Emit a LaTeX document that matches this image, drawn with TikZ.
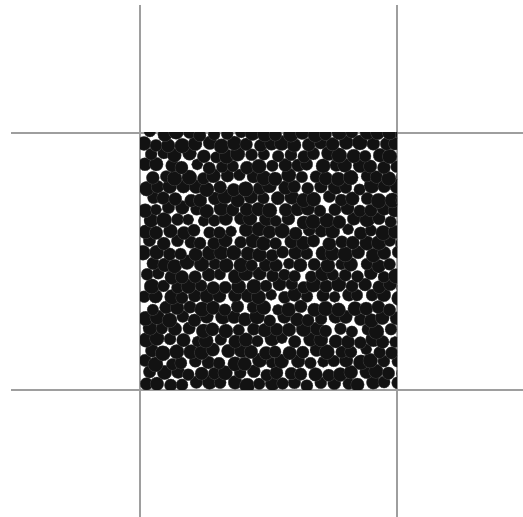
\documentclass[tikz,border=0pt]{standalone}
\begin{document}
\begin{tikzpicture}[x=1pt,y=1pt,
  gridline/.style={draw=black!38,line width=1.2pt},
  grain/.style={fill=black!93,draw=black!75,line width=0.4pt}]
\useasboundingbox (0,0) rectangle (523,517);
% grid lines (y measured from top: ytikz = 517 - y)
\draw[gridline] (140,512) -- (140,0);
\draw[gridline] (397,512) -- (397,0);
\draw[gridline] (11,384) -- (523,384);
\draw[gridline] (11,127) -- (523,127);
% packed grains
\pgfmathsetseed{11}
\begin{scope}
\clip (140,127) rectangle (397,384);
\foreach \r in {0,...,23}{
  \foreach \c in {0,...,20}{
    \pgfmathsetmacro{\px}{140+5+\c*12.6+mod(\r,2)*6.3+2.3*rand}
    \pgfmathsetmacro{\py}{127+6+\r*10.9+2.3*rand}
    \pgfmathsetmacro{\rad}{5.6+2.0*rnd}
    \fill[grain] (\px,\py) circle (\rad);
  }
}
\end{scope}
\end{tikzpicture}
\end{document}
